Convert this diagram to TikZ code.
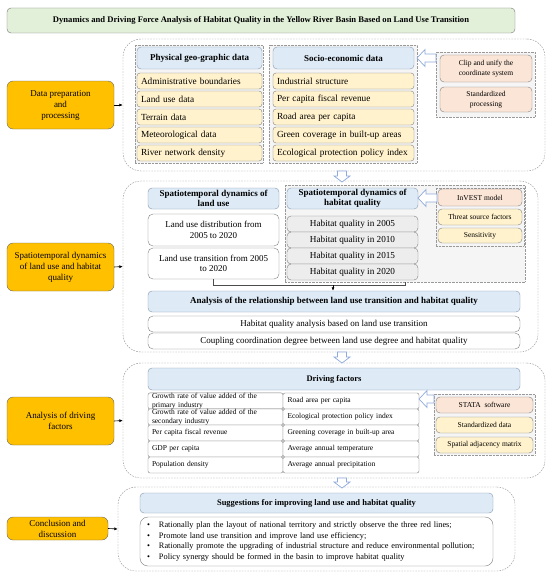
\documentclass[tikz,border=0pt]{standalone}
\usepackage{fontspec}
\setmainfont{Liberation Serif}
\usetikzlibrary{arrows.meta}
\definecolor{orng}{HTML}{FFC000}
\definecolor{hblue}{HTML}{DEEBF7}
\definecolor{ylw}{HTML}{FFF2CC}
\definecolor{pnk}{HTML}{FBE5D6}
\definecolor{lgry}{HTML}{EDEDED}
\definecolor{grn}{HTML}{E2F0D9}
\definecolor{bord}{HTML}{7F7F7F}
\definecolor{hbord}{HTML}{8497B0}
\definecolor{arbord}{HTML}{8FAADC}
\newcommand\bx[7]{\node[#1, minimum width={(#4-#2)*1pt}, minimum height={(#5-#3)*1pt}] (#6) at ({(#2+#4)/2},{(#3+#5)/2}) {#7};}
\newcommand\larrow[3]{\draw[harrow] (#1,#2) -- ({#1+8},{#2-8.5}) -- ({#1+8},{#2-4}) -- (#3,{#2-4}) -- (#3,{#2+4}) -- ({#1+8},{#2+4}) -- ({#1+8},{#2+8.5}) -- cycle;}
\newcommand\darrow[3]{\draw[harrow] (#1,#3) -- ({#1-8},{#3-6}) -- ({#1-4.5},{#3-6}) -- ({#1-4.5},#2) -- ({#1+4.5},#2) -- ({#1+4.5},{#3-6}) -- ({#1+8},{#3-6}) -- cycle;}
\tikzset{
 bbase/.style={inner sep=0pt, align=center},
 ttl/.style={bbase, draw=black!55, fill=grn, rounded corners=4pt, font=\bfseries\fontsize{8.6}{10}\selectfont},
 sect/.style={draw=black!45, dash pattern=on 1.6pt off 1.2pt, rounded corners=18pt, fill=white},
 obox/.style={bbase, draw=black!60, fill=orng, rounded corners=6pt, font=\fontsize{9}{11}\selectfont},
 hdr/.style={bbase, draw=hbord, fill=hblue, rounded corners=4pt, font=\bfseries\fontsize{8.5}{10.5}\selectfont},
 contbox/.style={draw=black!40, densely dotted, fill=black!4},
 yit/.style={bbase, draw=bord, fill=ylw, rounded corners=3pt, font=\fontsize{9.3}{10.5}\selectfont, align=left},
 ysm/.style={bbase, draw=bord, fill=ylw, rounded corners=4pt, font=\fontsize{7.5}{9.5}\selectfont},
 pit/.style={bbase, draw=bord, fill=pnk, rounded corners=4pt, font=\fontsize{7.5}{9.5}\selectfont},
 wit/.style={bbase, draw=bord, fill=white, rounded corners=5pt, font=\fontsize{9}{10.5}\selectfont},
 git/.style={bbase, draw=bord, fill=lgry, rounded corners=4pt, font=\fontsize{9.2}{10.5}\selectfont},
 cell/.style={bbase, draw=bord, fill=white, rounded corners=2pt, font=\fontsize{7.5}{9.3}\selectfont, align=left, text width=127pt},
 harrow/.style={draw=arbord, fill=white, line width=0.7pt},
 link/.style={draw=black, line width=0.6pt, -{Latex[length=3.5pt,width=3pt]}},
 brk/.style={draw=black!70, line width=0.5pt},
}
\begin{document}
\begin{tikzpicture}[x=1pt,y=-1pt]
\useasboundingbox (0,0) rectangle (550,578);
% title
\bx{ttl}{7}{8}{515}{33}{title}{Dynamics and Driving Force Analysis of Habitat Quality in the Yellow River Basin Based on Land Use Transition}
% sections
\bx{sect}{123}{39}{545}{171}{s1}{}
\bx{sect}{123}{181}{538}{352}{s2}{}
\bx{sect}{123}{363}{545}{478}{s3}{}
\bx{sect}{118}{487}{515}{571}{s4}{}
% orange boxes
\bx{obox}{7}{81}{114}{129}{o1}{Data preparation\\and\\processing}
\bx{obox}{7}{243}{114}{291}{o2}{Spatiotemporal dynamics\\of land use and habitat\\quality}
\bx{obox}{7}{397}{114}{445}{o3}{Analysis of driving\\factors}
\bx{obox}{7}{517}{108}{540}{o4}{Conclusion and\\discussion}
\draw[link] (o1.east) -- (s1.west);
\draw[link] (o2.east) -- (s2.west);
\draw[link] (o3.east) -- (s3.west);
\draw[link] (o4.east) -- (s4.west);
% section 1
\bx{contbox}{135}{45}{263}{163}{pc}{}
\bx{contbox}{269}{45}{417}{163}{sc}{}
\bx{hdr,font=\bfseries\fontsize{9}{10.5}\selectfont}{137}{47}{262}{69}{ph}{Physical geo-graphic data}
\bx{hdr,font=\bfseries\fontsize{9}{10.5}\selectfont}{273}{47}{414}{69}{sh}{Socio-economic data}
\bx{yit,text width=117pt}{137}{73}{262}{89}{p1}{Administrative boundaries}
\bx{yit,text width=117pt}{137}{91}{262}{107}{p2}{Land use data}
\bx{yit,text width=117pt}{137}{109}{262}{125}{p3}{Terrain data}
\bx{yit,text width=117pt}{137}{127}{262}{143}{p4}{Meteorological data}
\bx{yit,text width=117pt}{137}{145}{262}{161}{p5}{River network density}
\bx{yit,text width=133pt}{273}{73}{414}{89}{q1}{Industrial structure}
\bx{yit,text width=133pt}{273}{91}{414}{107}{q2}{Per capita fiscal revenue}
\bx{yit,text width=133pt}{273}{109}{414}{125}{q3}{Road area per capita}
\bx{yit,text width=133pt}{273}{127}{414}{143}{q4}{Green coverage in built-up areas}
\bx{yit,text width=133pt}{273}{145}{414}{161}{q5}{Ecological protection policy index}
\bx{contbox}{436}{52}{535}{117}{cc}{}
\bx{pit}{440}{55}{532}{82}{c1}{Clip and unify the\\coordinate system}
\bx{pit}{440}{87}{532}{112}{c2}{Standardized\\processing}
\larrow{417}{58}{436}
\darrow{342}{171}{182}
% section 2
\bx{hdr,font=\bfseries\fontsize{9}{10.5}\selectfont}{148}{188}{279}{209}{lh}{Spatiotemporal dynamics of\\land use}
\bx{wit}{148}{214}{279}{246}{ld}{Land use distribution from\\2005 to 2020}
\bx{wit}{148}{248}{279}{279}{lt}{Land use transition from 2005\\to 2020}
\bx{contbox}{285}{185}{525}{282}{hc}{}
\bx{hdr,font=\bfseries\fontsize{9}{10.5}\selectfont}{287}{188}{418}{209}{hh}{Spatiotemporal dynamics of\\habitat quality}
\bx{git}{287}{216}{418}{232}{h1}{Habitat quality in 2005}
\bx{git}{287}{232}{418}{248}{h2}{Habitat quality in 2010}
\bx{git}{287}{248}{418}{264}{h3}{Habitat quality in 2015}
\bx{git}{287}{264}{418}{280}{h4}{Habitat quality in 2020}
\bx{contbox}{436}{188}{524}{246}{ic}{}
\bx{pit}{438}{189}{522}{206}{i1}{InVEST model}
\bx{ysm}{438}{209}{522}{225}{i2}{Threat source factors}
\bx{ysm}{438}{228}{522}{243}{i3}{Sensitivity}
\larrow{418}{198}{437}
\bx{hdr,font=\bfseries\fontsize{9}{10.5}\selectfont}{148}{291}{520}{312}{ah}{Analysis of the relationship between land use transition and habitat quality}
\bx{wit}{148}{316}{520}{332}{a1}{Habitat quality analysis based on land use transition}
\bx{wit}{148}{333}{520}{349}{a2}{Coupling coordination degree between land use degree and habitat quality}
\draw[brk] (lt.south) -- ++(0,6) -| (hc.south);
\coordinate (jn) at (333,285);
\draw[link] (jn) -- (jn |- ah.north);
\darrow{342}{352}{363}
% section 3
\bx{hdr}{148}{368}{520}{390}{dh}{Driving factors}
\bx{cell}{148}{393}{283}{409}{l1}{Growth rate of value added of the\\primary industry}
\bx{cell}{148}{409}{283}{425}{l2}{Growth rate of value added of the\\secondary industry}
\bx{cell}{148}{425}{283}{441}{l3}{Per capita fiscal revenue}
\bx{cell}{148}{441}{283}{457}{l4}{GDP per capita}
\bx{cell}{148}{457}{283}{473}{l5}{Population density}
\bx{cell}{283}{393}{419}{409}{r1}{Road area per capita}
\bx{cell}{283}{409}{419}{425}{r2}{Ecological protection policy index}
\bx{cell}{283}{425}{419}{441}{r3}{Greening coverage in built-up area}
\bx{cell}{283}{441}{419}{457}{r4}{Average annual temperature}
\bx{cell}{283}{457}{419}{473}{r5}{Average annual precipitation}
\bx{contbox}{434}{394}{535}{455}{tc}{}
\bx{pit}{436}{397}{533}{413}{t1}{STATA\ \ software}
\bx{ysm}{436}{417}{533}{433}{t2}{Standardized data}
\bx{ysm}{436}{437}{533}{453}{t3}{Spatial adjacency matrix}
\larrow{419}{399}{434}
\darrow{342}{478}{488}
% section 4
\bx{hdr}{140}{493}{493}{513}{gh}{Suggestions for improving land use and habitat quality}
\bx{wit,rounded corners=8pt,align=left,text width=339pt,font=\fontsize{8.3}{10.4}\selectfont}{140}{517}{493}{566}{gb}{\makebox[12pt][l]{\textbullet}Rationally plan the layout of national territory and strictly observe the three red lines;\\\makebox[12pt][l]{\textbullet}Promote land use transition and improve land use efficiency;\\\makebox[12pt][l]{\textbullet}Rationally promote the upgrading of industrial structure and reduce environmental pollution;\\\makebox[12pt][l]{\textbullet}Policy synergy should be formed in the basin to improve habitat quality}
\end{tikzpicture}
\end{document}
